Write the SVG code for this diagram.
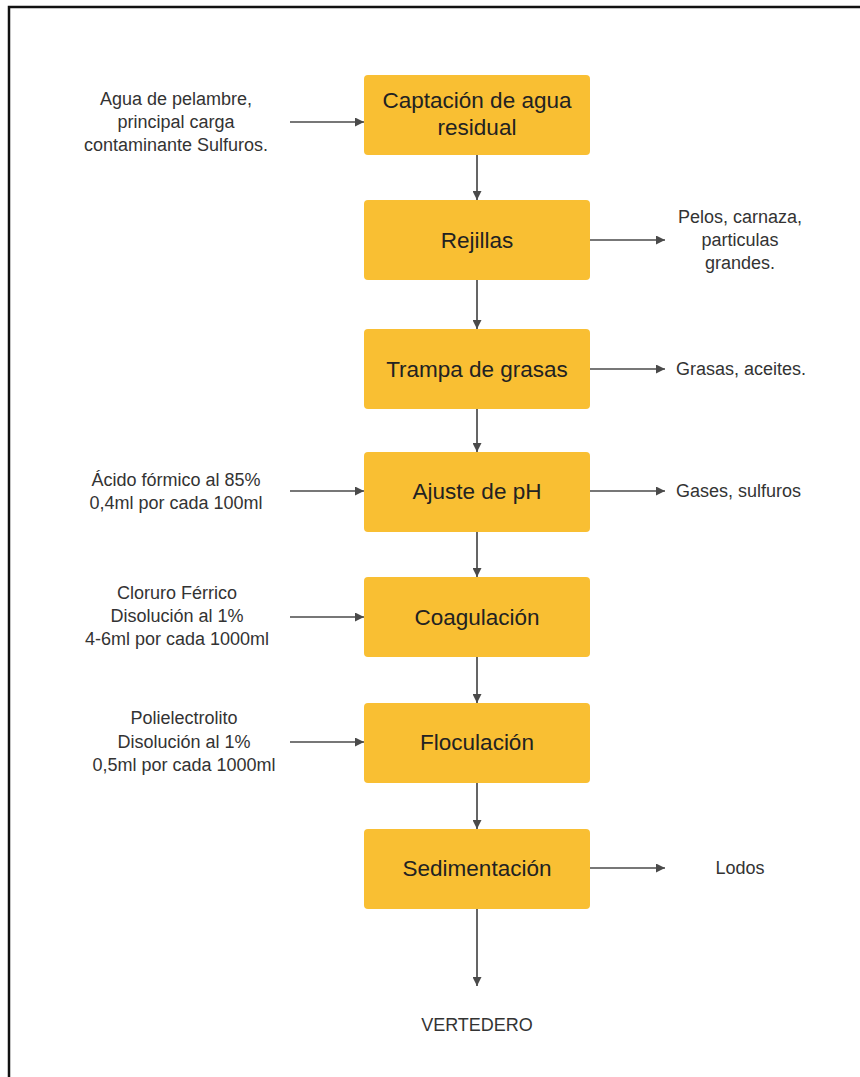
<svg xmlns="http://www.w3.org/2000/svg" width="860" height="1077" viewBox="0 0 860 1077">
<defs>
<style>
.box{fill:#F9BF33;}
.bt{font-family:"Liberation Sans",Arial,sans-serif;font-size:22.5px;fill:#222;text-anchor:middle;}
.lt{font-family:"Liberation Sans",Arial,sans-serif;font-size:18px;fill:#333;text-anchor:middle;}
.rt{font-family:"Liberation Sans",Arial,sans-serif;font-size:18px;fill:#333;text-anchor:start;}
.c{stroke:#4a4a4a;stroke-width:1.7;fill:none;marker-end:url(#ah);}
</style>
<marker id="ah" viewBox="0 0 10 10" refX="10" refY="5" markerWidth="11" markerHeight="9" markerUnits="userSpaceOnUse" orient="auto">
<path d="M0,0 L10,5 L0,10 z" fill="#4a4a4a"/>
</marker>
</defs>
<rect width="860" height="1077" fill="#fff"/>
<path d="M9,1077 V7 H860" fill="none" stroke="#111" stroke-width="2.5"/>
<g id="connectors">
<line class="c" x1="290" y1="122" x2="364" y2="122"/>
<line class="c" x1="477" y1="155" x2="477" y2="200"/>
<line class="c" x1="590" y1="240" x2="665" y2="240"/>
<line class="c" x1="477" y1="280" x2="477" y2="329"/>
<line class="c" x1="590" y1="369" x2="665" y2="369"/>
<line class="c" x1="477" y1="409" x2="477" y2="452"/>
<line class="c" x1="290" y1="491" x2="364" y2="491"/>
<line class="c" x1="590" y1="491" x2="665" y2="491"/>
<line class="c" x1="477" y1="532" x2="477" y2="577"/>
<line class="c" x1="290" y1="617" x2="364" y2="617"/>
<line class="c" x1="477" y1="657" x2="477" y2="703"/>
<line class="c" x1="290" y1="742" x2="364" y2="742"/>
<line class="c" x1="477" y1="783" x2="477" y2="829"/>
<line class="c" x1="590" y1="868" x2="665" y2="868"/>
<line class="c" x1="477" y1="909" x2="477" y2="986"/>
</g>
<g id="n1"><rect class="box" x="364" y="75" width="226" height="80" rx="4"/><text class="bt" x="477" y="108">Captación de agua</text><text class="bt" x="477" y="135">residual</text></g>
<g id="n2"><rect class="box" x="364" y="200" width="226" height="80" rx="4"/><text class="bt" x="477" y="248">Rejillas</text></g>
<g id="n3"><rect class="box" x="364" y="329" width="226" height="80" rx="4"/><text class="bt" x="477" y="377">Trampa de grasas</text></g>
<g id="n4"><rect class="box" x="364" y="452" width="226" height="80" rx="4"/><text class="bt" x="477" y="499">Ajuste de pH</text></g>
<g id="n5"><rect class="box" x="364" y="577" width="226" height="80" rx="4"/><text class="bt" x="477" y="625">Coagulación</text></g>
<g id="n6"><rect class="box" x="364" y="703" width="226" height="80" rx="4"/><text class="bt" x="477" y="750">Floculación</text></g>
<g id="n7"><rect class="box" x="364" y="829" width="226" height="80" rx="4"/><text class="bt" x="477" y="876">Sedimentación</text></g>
<g id="in1"><text class="lt" x="176" y="105">Agua de pelambre,</text><text class="lt" x="176" y="128">principal carga</text><text class="lt" x="176" y="151">contaminante Sulfuros.</text></g>
<g id="in4"><text class="lt" x="176" y="486">Ácido fórmico al 85%</text><text class="lt" x="176" y="509">0,4ml por cada 100ml</text></g>
<g id="in5"><text class="lt" x="177" y="599">Cloruro Férrico</text><text class="lt" x="177" y="622">Disolución al 1%</text><text class="lt" x="177" y="645">4-6ml por cada 1000ml</text></g>
<g id="in6"><text class="lt" x="184" y="724">Polielectrolito</text><text class="lt" x="184" y="748">Disolución al 1%</text><text class="lt" x="184" y="771">0,5ml por cada 1000ml</text></g>
<g id="out2"><text class="lt" x="740" y="223">Pelos, carnaza,</text><text class="lt" x="740" y="246">particulas</text><text class="lt" x="740" y="269">grandes.</text></g>
<g id="out3"><text class="rt" x="676" y="375">Grasas, aceites.</text></g>
<g id="out4"><text class="rt" x="676" y="497">Gases, sulfuros</text></g>
<g id="out7"><text class="lt" x="740" y="874">Lodos</text></g>
<g id="end"><text class="lt" x="477" y="1031">VERTEDERO</text></g>
</svg>
